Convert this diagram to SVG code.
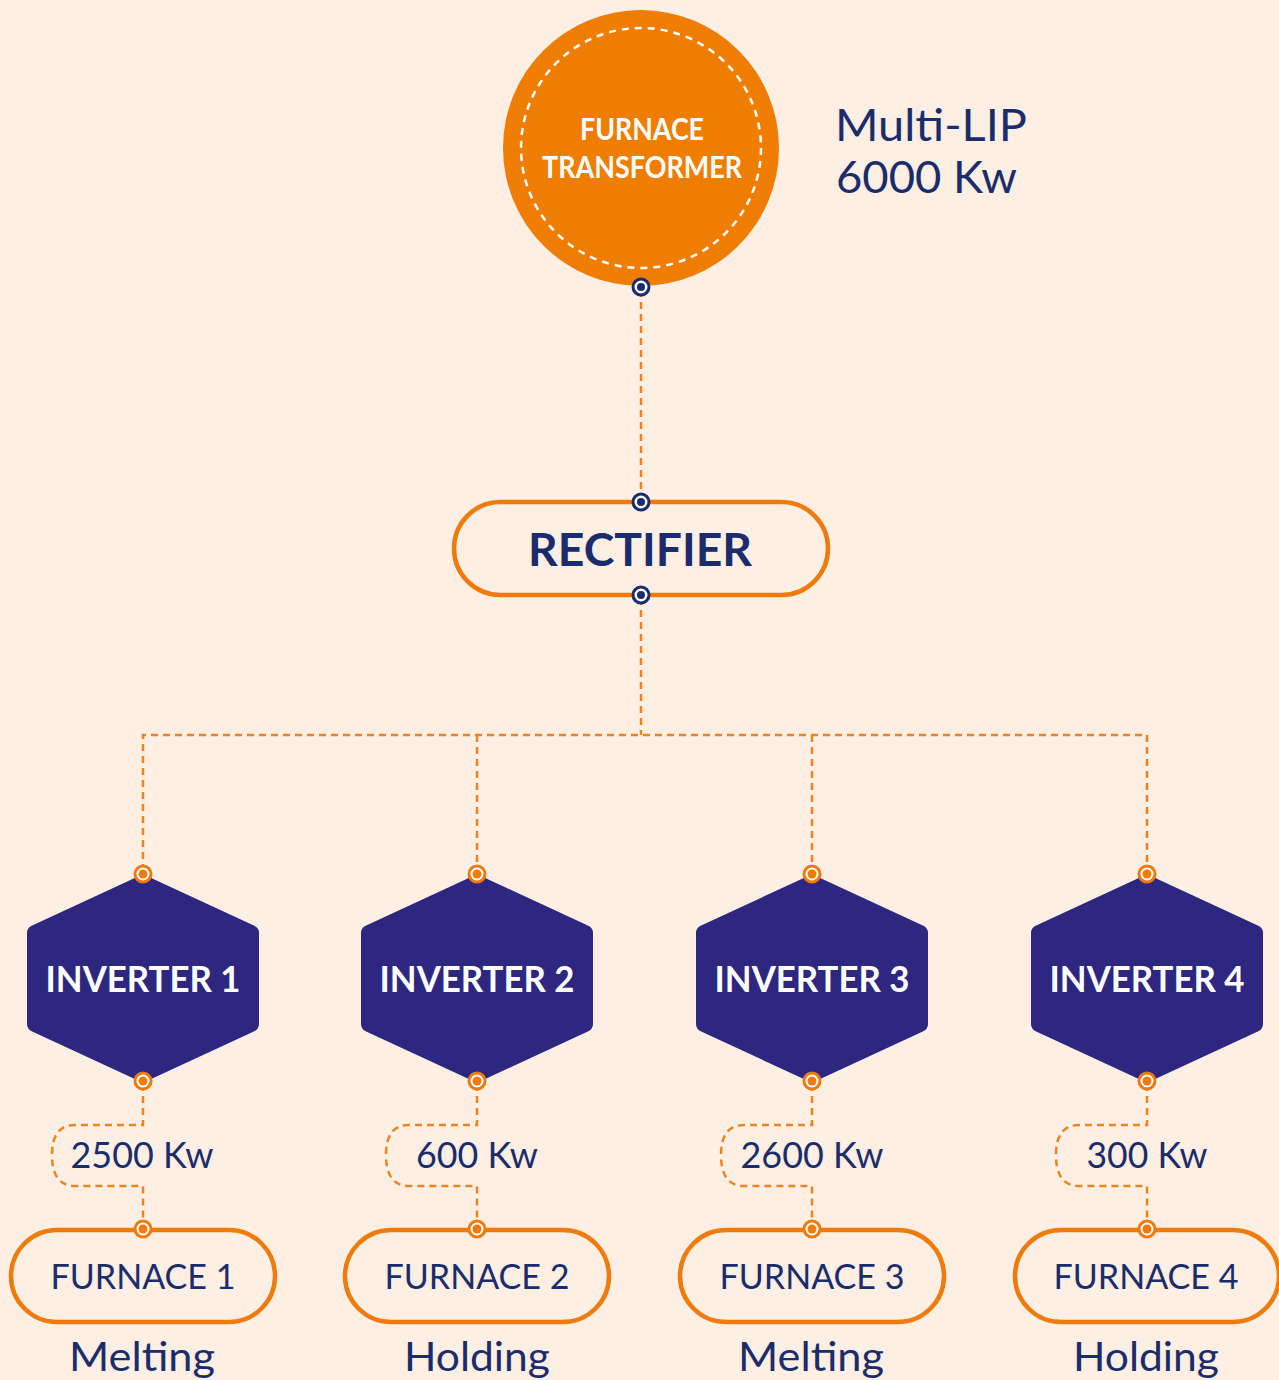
<svg xmlns="http://www.w3.org/2000/svg" width="1279" height="1380" viewBox="0 0 1279 1380">
<defs>
<style>
.bg{fill:#FDEFE3}
.conn{fill:none;stroke:#EE8420;stroke-width:2.5;stroke-dasharray:7 5}
.pill{fill:none;stroke:#EE7B0B;stroke-width:4.5}
.hex{fill:#2E2780;stroke:#2E2780;stroke-width:16;stroke-linejoin:round}
.t{font-family:Lato,"Noto Sans","Liberation Sans",sans-serif;text-anchor:middle}
.navy{fill:#1B2C6B}
.white{fill:#FFFFFF}
.b{font-weight:bold}
</style>
<g id="bdot">
<circle r="8" fill="#FFFFFF" stroke="#1B2C6B" stroke-width="3"/>
<circle r="4" fill="#1B2C6B"/>
</g>
<g id="odot">
<circle r="8" fill="#FFFFFF" stroke="#EE7B0B" stroke-width="3"/>
<circle r="4.5" fill="#EE7B0B"/>
</g>
</defs>
<rect class="bg" x="0" y="0" width="1279" height="1380"/>

<g id="connectors">
<path class="conn" d="M641,290 V499"/>
<path class="conn" d="M641,598 V735"/>
<path class="conn" d="M143,871 V735 H1147 V871"/>
<path class="conn" d="M477,735 V871"/>
<path class="conn" d="M812,735 V871"/>
<path class="conn" d="M143,1084 V1125 H75 Q52,1125 52,1155 Q52,1186 75,1186 H143 V1226"/>
<path class="conn" d="M477,1084 V1125 H409 Q386,1125 386,1155 Q386,1186 409,1186 H477 V1226"/>
<path class="conn" d="M812,1084 V1125 H744 Q721,1125 721,1155 Q721,1186 744,1186 H812 V1226"/>
<path class="conn" d="M1147,1084 V1125 H1079 Q1056,1125 1056,1155 Q1056,1186 1079,1186 H1147 V1226"/>
</g>

<g id="transformer">
<circle cx="641" cy="148" r="138" fill="#EF7D00"/>
<circle cx="641" cy="148" r="120" fill="none" stroke="#FFFFFF" stroke-width="2.5" stroke-dasharray="7 6"/>
<text class="t b white" x="642" y="140" font-size="30" textLength="124" lengthAdjust="spacingAndGlyphs">FURNACE</text>
<text class="t b white" x="642" y="178" font-size="30" textLength="200" lengthAdjust="spacingAndGlyphs">TRANSFORMER</text>
<use href="#bdot" x="641" y="287"/>
</g>

<g id="label-multilip">
<text class="navy" font-family="Lato,'Noto Sans','Liberation Sans',sans-serif" x="835" y="141" font-size="44" textLength="192" lengthAdjust="spacingAndGlyphs">Multi-LIP</text>
<text class="navy" font-family="Lato,'Noto Sans','Liberation Sans',sans-serif" x="836" y="193" font-size="44" textLength="181" lengthAdjust="spacingAndGlyphs">6000 Kw</text>
</g>

<g id="rectifier">
<rect class="pill" x="454" y="502" width="374" height="93" rx="46.5"/>
<text class="t b navy" x="640" y="566" font-size="46" textLength="224" lengthAdjust="spacingAndGlyphs">RECTIFIER</text>
<use href="#bdot" x="641" y="502"/>
<use href="#bdot" x="641" y="595"/>
</g>

<g id="inverter1">
<polygon class="hex" points="143,883 251,933 251,1024 143,1074 35,1024 35,933"/>
<text class="t b white" x="143" y="992" font-size="37" textLength="195" lengthAdjust="spacingAndGlyphs">INVERTER 1</text>
<use href="#odot" x="143" y="874"/>
<use href="#odot" x="143" y="1081"/>
</g>
<g id="inverter2">
<polygon class="hex" points="477,883 585,933 585,1024 477,1074 369,1024 369,933"/>
<text class="t b white" x="477" y="992" font-size="37" textLength="195" lengthAdjust="spacingAndGlyphs">INVERTER 2</text>
<use href="#odot" x="477" y="874"/>
<use href="#odot" x="477" y="1081"/>
</g>
<g id="inverter3">
<polygon class="hex" points="812,883 920,933 920,1024 812,1074 704,1024 704,933"/>
<text class="t b white" x="812" y="992" font-size="37" textLength="195" lengthAdjust="spacingAndGlyphs">INVERTER 3</text>
<use href="#odot" x="812" y="874"/>
<use href="#odot" x="812" y="1081"/>
</g>
<g id="inverter4">
<polygon class="hex" points="1147,883 1255,933 1255,1024 1147,1074 1039,1024 1039,933"/>
<text class="t b white" x="1147" y="992" font-size="37" textLength="195" lengthAdjust="spacingAndGlyphs">INVERTER 4</text>
<use href="#odot" x="1147" y="874"/>
<use href="#odot" x="1147" y="1081"/>
</g>

<g id="power1"><text class="t navy" x="142" y="1168" font-size="36" textLength="143" lengthAdjust="spacingAndGlyphs">2500 Kw</text></g>
<g id="power2"><text class="t navy" x="477" y="1168" font-size="36" textLength="122" lengthAdjust="spacingAndGlyphs">600 Kw</text></g>
<g id="power3"><text class="t navy" x="812" y="1168" font-size="36" textLength="143" lengthAdjust="spacingAndGlyphs">2600 Kw</text></g>
<g id="power4"><text class="t navy" x="1147" y="1168" font-size="36" textLength="121" lengthAdjust="spacingAndGlyphs">300 Kw</text></g>

<g id="furnace1">
<rect class="pill" x="11" y="1230" width="264" height="92" rx="46"/>
<text class="t navy" x="143" y="1289" font-size="34" textLength="185" lengthAdjust="spacingAndGlyphs">FURNACE 1</text>
<use href="#odot" x="143" y="1229"/>
<text class="t navy" x="142" y="1371" font-size="40" textLength="146" lengthAdjust="spacingAndGlyphs">Melting</text>
</g>
<g id="furnace2">
<rect class="pill" x="345" y="1230" width="264" height="92" rx="46"/>
<text class="t navy" x="477" y="1289" font-size="34" textLength="185" lengthAdjust="spacingAndGlyphs">FURNACE 2</text>
<use href="#odot" x="477" y="1229"/>
<text class="t navy" x="477" y="1371" font-size="40" textLength="146" lengthAdjust="spacingAndGlyphs">Holding</text>
</g>
<g id="furnace3">
<rect class="pill" x="680" y="1230" width="264" height="92" rx="46"/>
<text class="t navy" x="812" y="1289" font-size="34" textLength="185" lengthAdjust="spacingAndGlyphs">FURNACE 3</text>
<use href="#odot" x="812" y="1229"/>
<text class="t navy" x="811" y="1371" font-size="40" textLength="146" lengthAdjust="spacingAndGlyphs">Melting</text>
</g>
<g id="furnace4">
<rect class="pill" x="1015" y="1230" width="264" height="92" rx="46"/>
<text class="t navy" x="1146" y="1289" font-size="34" textLength="185" lengthAdjust="spacingAndGlyphs">FURNACE 4</text>
<use href="#odot" x="1147" y="1229"/>
<text class="t navy" x="1146" y="1371" font-size="40" textLength="146" lengthAdjust="spacingAndGlyphs">Holding</text>
</g>
</svg>
